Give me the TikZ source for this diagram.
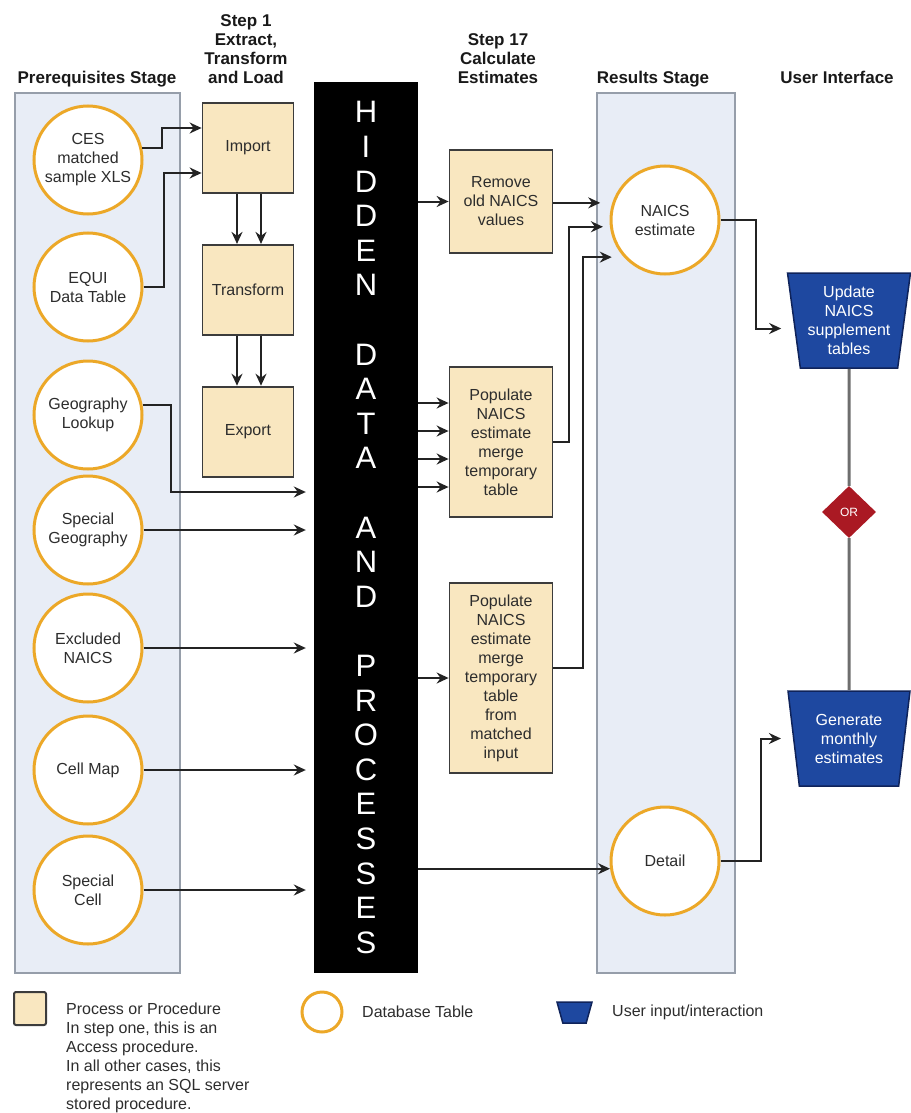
\documentclass[tikz,border=0pt]{standalone}
\usepackage{fontspec}
\setmainfont{Liberation Sans}
\usetikzlibrary{shapes.geometric, arrows.meta, positioning, calc}
\definecolor{panelfill}{RGB}{232,237,246}
\definecolor{panelline}{RGB}{150,158,170}
\definecolor{dbgold}{RGB}{236,168,40}
\definecolor{procfill}{RGB}{249,231,192}
\definecolor{procline}{RGB}{60,60,60}
\definecolor{uiblue}{RGB}{30,72,160}
\definecolor{uiline}{RGB}{15,35,90}
\definecolor{orred}{RGB}{170,25,35}
\definecolor{arrowdark}{RGB}{35,35,35}
\definecolor{orgray}{RGB}{110,110,110}
\definecolor{txtdark}{RGB}{45,45,45}
\definecolor{hdrdark}{RGB}{25,25,25}
\newcommand{\bodyfont}{\fontsize{16}{19}\selectfont}
\newcommand{\hdrfont}{\fontsize{17}{19}\selectfont\bfseries}
\tikzset{
  header/.style={font=\hdrfont, align=center, inner sep=0pt, text depth=0pt,
    anchor=south, text=hdrdark},
  panel/.style={rectangle, draw=panelline, fill=panelfill, line width=1.5pt},
  dbtable/.style={circle, draw=dbgold, fill=white, line width=3pt,
    minimum size=108pt, inner sep=0pt, align=center, font=\bodyfont, text=txtdark},
  procbox/.style={rectangle, draw=procline, fill=procfill, line width=1.8pt,
    inner sep=0pt, align=center, font=\bodyfont, text=txtdark},
  userbox/.style={trapezium, trapezium left angle=99, trapezium right angle=99,
    trapezium stretches=true, draw=uiline, fill=uiblue, line width=1.5pt,
    minimum width=123pt, minimum height=95pt, inner sep=0pt, align=center,
    font=\bodyfont, text=white},
  ordiamond/.style={diamond, fill=orred, minimum width=54pt, minimum height=52pt,
    inner sep=0pt, font=\fontsize{12}{14}\selectfont, text=white},
  hiddenbar/.style={rectangle, fill=black, minimum width=104pt, minimum height=891pt,
    inner sep=0pt, align=center, text=white, font=\fontsize{31}{34.6}\selectfont},
  arrow/.style={-{Stealth[length=12pt, width=11pt, inset=4pt]}, line width=2pt,
    color=arrowdark},
  orline/.style={line width=3pt, color=orgray}
}

\begin{document}
\begin{tikzpicture}[x=1pt, y=-1pt]
  \useasboundingbox (0,0) rectangle (910,1113);

  % Stage panels
  \node[panel, minimum width=165pt, minimum height=880pt] (prepanel) at (97.5,533) {};
  \node[panel, minimum width=138pt, minimum height=880pt] (respanel) at (666,533) {};

  % Column headers
  \node[header] (hpre) at (97,84) {Prerequisites Stage};
  \node[header] (hstep1) at (246,84) {Step 1\\Extract,\\Transform\\and Load};
  \node[header] (hstep17) at (498,84) {Step 17\\Calculate\\Estimates};
  \node[header] (hres) at (653,84) {Results Stage};
  \node[header] (hui) at (837,84) {User Interface};

  % Prerequisite tables
  \node[dbtable] (ces) at (88,160) {CES\\matched\\sample XLS};
  \node[dbtable] (equi) at (88,287) {EQUI\\Data Table};
  \node[dbtable] (geo) at (88,415) {Geography\\Lookup};
  \node[dbtable] (sgeo) at (88,530) {Special\\Geography};
  \node[dbtable] (exnaics) at (88,648) {Excluded\\NAICS};
  \node[dbtable] (cellmap) at (88,770) {Cell Map};
  \node[dbtable] (scell) at (88,890) {Special\\Cell};

  % Step 1 (Extract, Transform and Load)
  \node[procbox, minimum width=91pt, minimum height=90pt] (import) at (248,148) {Import};
  \node[procbox, minimum width=91pt, minimum height=90pt, below=50pt of import] (transform) {Transform};
  \node[procbox, minimum width=91pt, minimum height=90pt, below=50pt of transform] (export) {Export};

  % Hidden data and processes
  \node[hiddenbar] (hidden) at (366,527.5) {H\\I\\D\\D\\E\\N\\[34.6pt]D\\A\\T\\A\\[34.6pt]A\\N\\D\\[34.6pt]P\\R\\O\\C\\E\\S\\S\\E\\S};

  % Step 17 (Calculate Estimates)
  \node[procbox, minimum width=103pt, minimum height=103pt] (remove) at (501,201.5) {Remove\\old NAICS\\values};
  \node[procbox, minimum width=103pt, minimum height=150pt] (popmerge) at (501,442) {Populate\\NAICS\\estimate\\merge\\temporary\\table};
  \node[procbox, minimum width=103pt, minimum height=190pt] (popmatch) at (501,678) {Populate\\NAICS\\estimate\\merge\\temporary\\table\\from\\matched\\input};

  % Results and user interface
  \node[dbtable] (naics) at (665,220) {NAICS\\estimate};
  \node[dbtable] (detail) at (665,861) {Detail};
  \node[userbox] (update) at (849,320.5) {Update\\NAICS\\supplement\\tables};
  \node[userbox] (generate) at (849,738.5) {Generate\\monthly\\estimates};
  \node[ordiamond] (orgate) at (849,512) {OR};

  % Prerequisites into Step 1
  \draw[arrow] (ces.13) -- ++(20,0) |- ([yshift=20pt]import.west);
  \draw[arrow] (equi.east) -- ++(20,0) |- ([yshift=-25pt]import.west);
  \foreach \s in {-11,13} {
    \draw[arrow] ([xshift=\s pt]import.south) -- ([xshift=\s pt]transform.north);
    \draw[arrow] ([xshift=\s pt]transform.south) -- ([xshift=\s pt]export.north);
  }

  % Prerequisites into the hidden processes
  \coordinate (geoin) at (hidden.west |- 0,492);
  \draw[arrow, shorten >=8pt] (geo.10) -- ++(28,0) |- (geoin);
  \foreach \n in {sgeo, exnaics, cellmap, scell}
    \draw[arrow, shorten >=8pt] (\n.east) -- (\n.east -| hidden.west);

  % Hidden processes into Step 17 and results
  \draw[arrow] (hidden.east |- remove.west) -- (remove.west);
  \foreach \s in {39,11,-17,-45} {
    \coordinate (mergein) at ([yshift=\s pt]popmerge.west);
    \draw[arrow] (hidden.east |- mergein) -- (mergein);
  }
  \draw[arrow] (hidden.east |- popmatch.west) -- (popmatch.west);
  \draw[arrow] (hidden.east |- detail.188) -- (detail.188);

  % Step 17 into results
  \draw[arrow, shorten >=12pt] (remove.east |- naics.162) -- (naics.162);
  \draw[arrow, shorten >=7pt] (popmerge.east) -- ++(16,0) |- (naics.187);
  \draw[arrow, shorten >=12pt] ([yshift=10pt]popmatch.east) -- ++(30,0) |- (naics.222);

  % Results into user interface
  \draw[arrow, shorten >=12pt] (naics.east) -- ++(35,0) |- ([yshift=-8pt]update.west);
  \draw[arrow, shorten >=12pt] (detail.east) -- ++(40,0) |- (generate.west);
  \draw[orline] (update.south) -- (orgate.north);
  \draw[orline] (orgate.south) -- (generate.north);

  % Legend
  \node[procbox, minimum width=32pt, minimum height=33pt, rounded corners=2pt, line width=2pt] (legproc) at (30,1008.5) {};
  \node[anchor=north west, inner sep=0pt, align=left, font=\bodyfont, text=txtdark] (legproctxt) at (66,1003)
    {Process or Procedure\\In step one, this is an\\Access procedure.\\In all other cases, this\\represents an SQL server\\stored procedure.};
  \node[dbtable, minimum size=40pt] (legdb) at (322,1012) {};
  \node[anchor=west, inner sep=0pt, font=\bodyfont, text=txtdark] (legdbtxt) at (362,1012) {Database Table};
  \node[userbox, inner sep=1pt, minimum width=35pt, minimum height=21pt, trapezium left angle=104, trapezium right angle=104] (legui) at (574.5,1012.5) {};
  \node[anchor=west, inner sep=0pt, font=\bodyfont, text=txtdark] (leguitxt) at (612,1012) {User input/interaction};
\end{tikzpicture}
\end{document}
